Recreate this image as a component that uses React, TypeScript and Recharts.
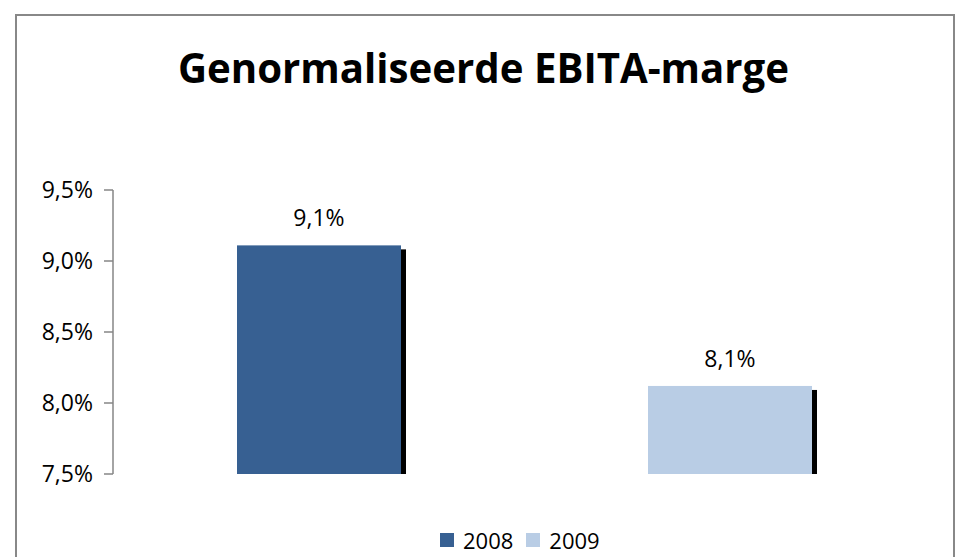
import { BarChart, Bar, Cell, XAxis, YAxis, LabelList } from 'recharts';

const years = ['2008', '2009'];
const margins = [9.11, 8.12];
const yTicks = [7.5, 8.0, 8.5, 9.0, 9.5];
const barColors = ['#376092', '#B9CDE5'];

const data = years.map((year, i) => ({ year, value: margins[i] }));

const font = '"Open Sans", Calibri, sans-serif';
const axisColor = '#868686';

const pct = (v: number) => `${v.toFixed(1).replace('.', ',')}%`;

// bar with a hard black drop shadow to the right, like the old Excel style
function ShadowBar(props: any) {
  const { x, y, width, height, fill } = props;
  return (
    <g>
      <rect x={x + 5} y={y + 4} width={width} height={Math.max(height - 4, 0)} fill="#000" />
      <rect x={x} y={y} width={width} height={height} fill={fill} />
    </g>
  );
}

export default function App() {
  return (
    <div
      style={{
        position: 'absolute', left: 0, top: 0, width: 964, height: 557,
        overflow: 'hidden', background: '#fff', fontFamily: font,
      }}
    >
      {/* chart frame */}
      <div
        style={{
          position: 'absolute', left: 15, top: 14, width: 940, height: 600,
          border: '2px solid #888', boxSizing: 'border-box',
        }}
      />
      <svg width={964} height={110} style={{ position: 'absolute', left: 0, top: 0 }}>
        <text
          x={483.5}
          y={83}
          textAnchor="middle"
          textLength={611}
          lengthAdjust="spacingAndGlyphs"
          style={{ fontFamily: font, fontWeight: 700, fontSize: 42, fill: '#000' }}
        >
          Genormaliseerde EBITA-marge
        </text>
      </svg>

      <div style={{ position: 'absolute', left: 0, top: 0 }}>
        <BarChart
          width={964}
          height={557}
          data={data}
          margin={{ top: 190, right: 29, bottom: 83, left: 0 }}
          barSize={164}
        >
          <XAxis
            dataKey="year"
            height={0}
            tick={false}
            tickLine={false}
            axisLine={{ stroke: axisColor, strokeWidth: 1.5 }}
          />
          <YAxis
            width={113}
            domain={[7.5, 9.5]}
            ticks={yTicks}
            tickFormatter={pct}
            tickSize={9}
            tickMargin={11}
            axisLine={{ stroke: axisColor, strokeWidth: 1.5 }}
            tickLine={{ stroke: axisColor, strokeWidth: 1.5 }}
            tick={{ fill: '#000', fontSize: 23, fontFamily: font }}
            allowDataOverflow
          />
          <Bar dataKey="value" shape={<ShadowBar />} isAnimationActive={false}>
            {data.map((d, i) => (
              <Cell key={d.year} fill={barColors[i]} />
            ))}
            <LabelList
              dataKey="value"
              position="top"
              offset={19}
              formatter={(v: any) => pct(Number(v))}
              style={{ fill: '#000', fontSize: 23, fontFamily: font }}
            />
          </Bar>
        </BarChart>
      </div>

      {/* legend */}
      <div
        style={{
          position: 'absolute', left: 440, top: 525, display: 'flex',
          alignItems: 'center', fontSize: 22, lineHeight: '30px', color: '#000',
        }}
      >
        {years.map((year, i) => (
          <div key={year} style={{ display: 'flex', alignItems: 'center', marginRight: 13 }}>
            <span style={{ width: 14, height: 14, background: barColors[i], display: 'inline-block', marginRight: 9 }} />
            <span>{year}</span>
          </div>
        ))}
      </div>
    </div>
  );
}
